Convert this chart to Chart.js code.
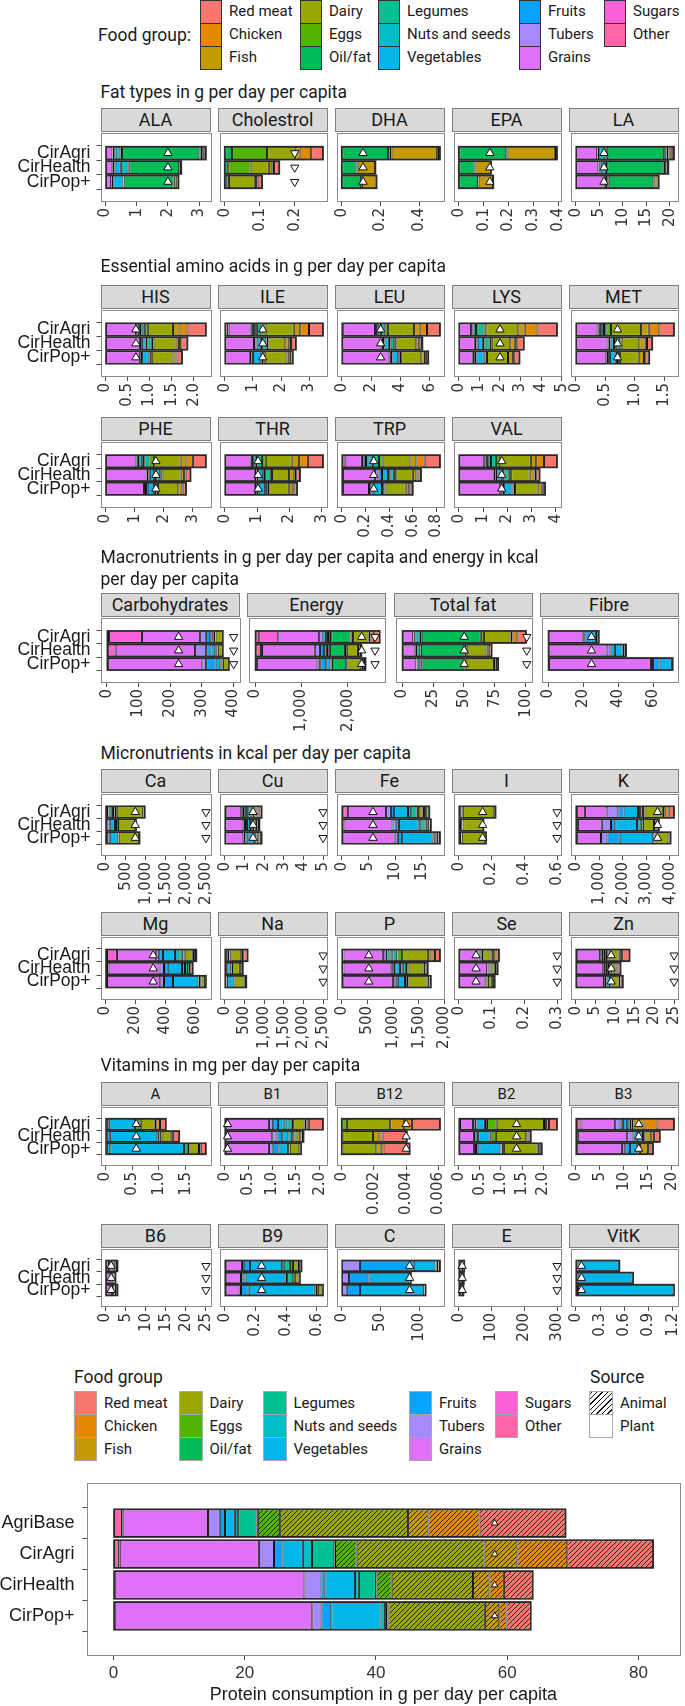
<!DOCTYPE html>
<html>
<head>
<meta charset="utf-8">
<script src="https://cdn.jsdelivr.net/npm/chart.js@4.4.1/dist/chart.umd.min.js"></script>
<style>
  body { margin: 0; background: #fff; }
  #fig { position: relative; width: 685px; height: 1706px; overflow: hidden; font-family: Roboto, sans-serif; color: #1a1a1a; }
  .title { position: absolute; font-size: 17.5px; line-height: 22px; white-space: nowrap; }
  .strip { position: absolute; background: #d9d9d9; border: 1px solid #7f7f7f; box-sizing: border-box; font-size: 18px; text-align: center; }
  .key { position: absolute; box-sizing: border-box; }
  .lab { position: absolute; font-size: 15px; line-height: 18px; white-space: nowrap; }
  canvas { position: absolute; }
  #err { position: absolute; left: 0; top: 0; font: 11px monospace; color: red; white-space: pre; }
</style>
</head>
<body>
<div id="fig"></div>
<script>
'use strict';

const scenarios = ['CirAgri', 'CirHealth', 'CirPop+'];
const proteinScenarios = ['AgriBase', 'CirAgri', 'CirHealth', 'CirPop+'];
const legendOrder = ['Red meat', 'Chicken', 'Fish', 'Dairy', 'Eggs', 'Oil/fat', 'Legumes', 'Nuts and seeds',
  'Vegetables', 'Fruits', 'Tubers', 'Grains', 'Sugars', 'Other'];
const groupColors = ['#F8766D', '#E38900', '#C49A00', '#99A800', '#53B400', '#00BC56', '#00C094', '#00BFC4',
  '#00B6EB', '#06A4FF', '#A58AFF', '#DF70F8', '#FB61D7', '#FF66A8'];
const animalGroups = ['Red meat', 'Chicken', 'Fish', 'Dairy', 'Eggs'];
// bars are stacked from the left in this order
const stackOrder = legendOrder.slice().reverse();

// each row: Other, Sugars, Grains, Tubers, Fruits, Vegetables, Nuts and seeds, Legumes, Oil/fat, Eggs, Dairy, Fish, Chicken, Red meat
// rows: CirAgri, CirHealth, CirPop+
const d_ALA = [
  [0.01, 0, 0.21, 0.01, 0.05, 0.10, 0.10, 0.05, 2.48, 0.03, 0.06, 0.05, 0.03, 0.04],
  [0.01, 0, 0.21, 0.02, 0.05, 0.20, 0.25, 0.02, 1.60, 0.02, 0.04, 0, 0, 0.01],
  [0.01, 0, 0.17, 0.02, 0.05, 0.30, 0.02, 0.01, 1.60, 0.02, 0.10, 0.02, 0.01, 0.01]];
const d_Cholestrol = [
  [0, 0, 0, 0, 0, 0, 0, 0, 0.021, 0.100, 0.079, 0.014, 0.033, 0.034],
  [0, 0, 0, 0, 0, 0, 0, 0, 0.010, 0.064, 0.052, 0.010, 0.005, 0.015],
  [0, 0, 0, 0, 0, 0, 0, 0, 0.008, 0.004, 0.074, 0.006, 0.002, 0.013]];
const d_DHA = [
  [0, 0, 0, 0, 0, 0, 0, 0, 0.239, 0.015, 0.003, 0.235, 0.010, 0.005],
  [0, 0, 0, 0, 0, 0, 0, 0, 0.076, 0.006, 0, 0.090, 0.002, 0],
  [0, 0, 0, 0, 0, 0, 0, 0, 0.100, 0.004, 0, 0.075, 0.001, 0]];
const d_EPA = [
  [0, 0, 0, 0, 0, 0, 0, 0, 0.191, 0.005, 0, 0.190, 0.005, 0.004],
  [0, 0, 0, 0, 0, 0, 0, 0, 0.064, 0.003, 0, 0.062, 0.001, 0],
  [0, 0, 0, 0, 0, 0, 0, 0, 0.078, 0.002, 0, 0.058, 0.001, 0]];
const d_LA = [
  [0.1, 0, 4.4, 0.1, 0.1, 0.3, 1.3, 0.3, 12.2, 0.5, 0.4, 0.2, 0.5, 0.5],
  [0.1, 0, 4.7, 0.1, 0.1, 0.3, 1.1, 0.3, 12.0, 0.3, 0.3, 0.1, 0.2, 0.1],
  [0.1, 0, 5.6, 0.1, 0.1, 0.5, 0.4, 0.2, 9.5, 0.2, 0.7, 0.1, 0.05, 0.1]];
const d_HIS = [
  [0.01, 0, 0.68, 0.02, 0.02, 0.05, 0.04, 0.08, 0, 0.06, 0.57, 0.15, 0.18, 0.42],
  [0.01, 0, 0.77, 0.03, 0.02, 0.08, 0.04, 0.10, 0, 0.04, 0.50, 0.08, 0.05, 0.14],
  [0.01, 0, 0.77, 0.02, 0.03, 0.15, 0.02, 0.03, 0, 0.02, 0.47, 0.07, 0.02, 0.13]];
const d_ILE = [
  [0.12, 0.02, 0.78, 0.04, 0.04, 0.08, 0.06, 0.16, 0, 0.15, 1.00, 0.23, 0.31, 0.50],
  [0.02, 0, 1.02, 0.05, 0.04, 0.15, 0.05, 0.15, 0, 0.07, 0.60, 0.14, 0.06, 0.18],
  [0.02, 0, 0.87, 0.06, 0.05, 0.28, 0.03, 0.06, 0, 0.05, 0.77, 0.10, 0.03, 0.10]];
const d_LEU = [
  [0.10, 0, 2.17, 0.07, 0.08, 0.15, 0.10, 0.30, 0, 0.19, 1.77, 0.38, 0.50, 0.89],
  [0.05, 0, 2.66, 0.10, 0.10, 0.30, 0.12, 0.25, 0, 0.15, 1.35, 0.20, 0.08, 0.14],
  [0.05, 0, 3.20, 0.10, 0.10, 0.40, 0.05, 0.05, 0, 0.10, 1.37, 0.25, 0.06, 0.17]];
const d_LYS = [
  [0.02, 0, 0.58, 0.06, 0.06, 0.12, 0.06, 0.30, 0, 0.14, 1.55, 0.31, 0.62, 0.95],
  [0.02, 0, 0.76, 0.08, 0.06, 0.25, 0.08, 0.25, 0, 0.10, 0.90, 0.22, 0.12, 0.32],
  [0.02, 0, 0.66, 0.10, 0.08, 0.35, 0.03, 0.06, 0, 0.07, 1.02, 0.25, 0.05, 0.26]];
const d_MET = [
  [0.01, 0, 0.36, 0.02, 0.02, 0.04, 0.03, 0.04, 0, 0.08, 0.51, 0.13, 0.18, 0.25],
  [0.01, 0, 0.53, 0.02, 0.03, 0.06, 0.03, 0.05, 0, 0.05, 0.30, 0.09, 0.04, 0.09],
  [0.01, 0, 0.51, 0.03, 0.03, 0.10, 0.02, 0.02, 0, 0.03, 0.32, 0.09, 0.02, 0.07]];
const d_PHE = [
  [0.02, 0, 1.04, 0.05, 0.05, 0.10, 0.07, 0.18, 0, 0.16, 0.91, 0.20, 0.22, 0.45],
  [0.02, 0, 1.39, 0.06, 0.05, 0.15, 0.07, 0.14, 0, 0.08, 0.62, 0.12, 0.05, 0.17],
  [0.02, 0, 1.30, 0.07, 0.06, 0.22, 0.03, 0.05, 0, 0.05, 0.70, 0.14, 0.03, 0.10]];
const d_THR = [
  [0.02, 0, 0.78, 0.04, 0.04, 0.08, 0.05, 0.14, 0, 0.12, 0.80, 0.23, 0.27, 0.47],
  [0.02, 0, 0.91, 0.05, 0.06, 0.15, 0.06, 0.14, 0, 0.07, 0.53, 0.16, 0.06, 0.12],
  [0.02, 0, 0.91, 0.06, 0.06, 0.20, 0.03, 0.05, 0, 0.05, 0.60, 0.14, 0.03, 0.09]];
const d_TRP = [
  [0.025, 0, 0.145, 0.015, 0.02, 0.03, 0.03, 0.05, 0, 0.03, 0.235, 0.05, 0.07, 0.13],
  [0.01, 0, 0.27, 0.03, 0.03, 0.05, 0.02, 0.03, 0, 0.02, 0.14, 0.03, 0.01, 0.03],
  [0.01, 0, 0.22, 0.02, 0.02, 0.07, 0.01, 0.01, 0, 0.01, 0.17, 0.03, 0.01, 0.02]];
const d_VAL = [
  [0.03, 0, 1.02, 0.06, 0.05, 0.10, 0.07, 0.20, 0, 0.18, 1.26, 0.22, 0.32, 0.54],
  [0.03, 0, 1.41, 0.08, 0.07, 0.20, 0.09, 0.18, 0, 0.10, 0.76, 0.20, 0.07, 0.14],
  [0.03, 0, 1.68, 0.09, 0.07, 0.30, 0.04, 0.05, 0, 0.06, 0.93, 0.17, 0.04, 0.10]];
const d_Carbohydrates = [
  [7, 104, 184, 18, 14, 8, 3, 5, 0, 1, 22, 0, 0, 1],
  [3, 25, 251, 35, 17, 12, 3, 4, 0, 1, 15, 0, 0, 1],
  [4, 0, 298, 12, 30, 15, 3, 4, 0, 1, 18, 0, 0, 1]];
const d_Energy = [
  [90, 410, 880, 90, 60, 40, 40, 30, 415, 55, 335, 40, 80, 120],
  [130, 20, 1137, 110, 90, 60, 40, 24, 324, 40, 240, 25, 15, 34],
  [40, 0, 1303, 60, 130, 90, 25, 9, 306, 24, 300, 40, 18, 35]];
const d_TotalFat = [
  [1, 0, 8, 0.3, 0.5, 1, 3.5, 1.6, 47.7, 2.5, 21.5, 1.5, 4, 7],
  [1, 0, 9.2, 0.4, 0.6, 1.2, 2.3, 0.5, 35.3, 1.7, 16, 1, 0.8, 2.4],
  [1, 0, 10.5, 0.3, 0.8, 2.2, 1.2, 0.6, 33.9, 0.9, 22.8, 1.2, 0.5, 1.8]];
const d_Fibre = [
  [0.3, 0, 19.4, 1.5, 3.5, 2.5, 0.8, 0.7, 0, 0, 0.2, 0, 0, 0],
  [0.3, 0, 33.0, 2.2, 2.5, 4.4, 1.0, 0.9, 0, 0, 0.1, 0, 0, 0],
  [0.5, 0, 58.0, 1.2, 3.7, 7.0, 0.3, 0.1, 0, 0, 0.1, 0, 0, 0]];
const d_Ca = [
  [10, 5, 50, 10, 20, 60, 30, 40, 5, 50, 650, 15, 10, 23],
  [10, 0, 60, 10, 25, 130, 25, 30, 0, 20, 430, 10, 3, 7],
  [10, 0, 55, 10, 30, 200, 10, 10, 0, 15, 490, 10, 3, 5]];
const d_Cu = [
  [0.03, 0.05, 0.76, 0.08, 0.10, 0.12, 0.12, 0.15, 0.01, 0.02, 0.18, 0.05, 0.05, 0.16],
  [0.03, 0, 0.92, 0.08, 0.10, 0.15, 0.12, 0.10, 0, 0.02, 0.12, 0.03, 0.02, 0.08],
  [0.03, 0, 0.92, 0.10, 0.15, 0.30, 0.05, 0.05, 0, 0.01, 0.12, 0.03, 0.01, 0.11]];
const d_Fe = [
  [0.3, 0.9, 7.1, 0.9, 0.6, 2.6, 0.6, 1.0, 0.1, 0.4, 0.6, 0.3, 0.4, 0.6],
  [0.3, 0.2, 9.0, 0.6, 0.6, 3.7, 0.5, 0.8, 0.1, 0.2, 0.3, 0.1, 0.05, 0.25],
  [0.3, 0, 9.6, 0.6, 0.8, 5.7, 0.2, 0.2, 0.1, 0.2, 0.3, 0.1, 0.05, 0.25]];
const d_I = [
  [0.005, 0, 0.008, 0, 0, 0.004, 0.002, 0.002, 0.001, 0.005, 0.190, 0.005, 0.001, 0.002],
  [0.005, 0, 0.010, 0, 0, 0.006, 0.002, 0.002, 0, 0.003, 0.118, 0.003, 0, 0.002],
  [0.003, 0, 0.004, 0, 0, 0.008, 0.001, 0.001, 0, 0.002, 0.143, 0.004, 0, 0.001]];
const d_K = [
  [60, 330, 925, 500, 220, 615, 90, 120, 5, 60, 780, 80, 170, 230],
  [60, 40, 1010, 390, 185, 925, 110, 110, 5, 30, 465, 60, 40, 110],
  [60, 0, 1015, 275, 520, 1430, 40, 20, 5, 25, 555, 50, 15, 30]];
const d_Mg = [
  [10, 66, 262, 20, 25, 80, 30, 25, 2, 8, 54, 8, 6, 10],
  [10, 10, 340, 30, 25, 95, 20, 20, 2, 5, 16, 4, 2, 3],
  [10, 0, 355, 25, 60, 170, 10, 5, 2, 3, 23, 4, 1, 2]];
const d_Na = [
  [20, 5, 30, 5, 5, 50, 5, 10, 10, 30, 250, 20, 30, 113],
  [20, 0, 35, 5, 5, 90, 5, 5, 5, 15, 200, 25, 10, 42],
  [15, 0, 30, 5, 5, 175, 2, 2, 5, 10, 230, 30, 5, 36]];
const d_P = [
  [30, 5, 765, 50, 40, 60, 55, 75, 5, 90, 500, 70, 70, 98],
  [30, 5, 917, 50, 40, 90, 55, 60, 3, 50, 290, 40, 15, 30],
  [30, 0, 965, 50, 45, 140, 20, 15, 3, 30, 352, 50, 10, 25]];
const d_Se = [
  [0.002, 0, 0.058, 0.001, 0.001, 0.002, 0.002, 0.003, 0, 0.006, 0.022, 0.008, 0.007, 0.011],
  [0.002, 0, 0.084, 0.001, 0.001, 0.003, 0.003, 0.003, 0, 0.003, 0.010, 0.006, 0.001, 0.002],
  [0.002, 0, 0.077, 0.001, 0.001, 0.004, 0.001, 0.001, 0, 0.002, 0.012, 0.007, 0.001, 0.001]];
const d_Zn = [
  [0.2, 0.05, 5.95, 0.2, 0.2, 0.4, 0.5, 0.5, 0.02, 0.3, 2.58, 0.3, 0.6, 1.9],
  [0.2, 0, 6.8, 0.2, 0.3, 0.5, 0.5, 0.3, 0.01, 0.2, 1.09, 0.3, 0.2, 0.8],
  [0.2, 0, 7.0, 0.2, 0.4, 0.9, 0.2, 0.1, 0.01, 0.1, 1.79, 0.4, 0.1, 0.6]];
const d_A = [
  [0.01, 0, 0.01, 0.01, 0.03, 0.49, 0, 0, 0.05, 0.06, 0.26, 0.03, 0.07, 0.11],
  [0.01, 0, 0.01, 0.01, 0.05, 0.89, 0, 0, 0.04, 0.04, 0.17, 0.02, 0.02, 0.12],
  [0.01, 0, 0.01, 0.01, 0.06, 1.38, 0, 0, 0.07, 0.03, 0.18, 0.03, 0.01, 0.09]];
const d_B1 = [
  [0.02, 0, 0.91, 0.09, 0.10, 0.12, 0.08, 0.09, 0, 0.03, 0.24, 0.04, 0.05, 0.30],
  [0.02, 0, 0.98, 0.11, 0.10, 0.13, 0.08, 0.05, 0, 0.02, 0.10, 0.02, 0.01, 0.04],
  [0.02, 0, 0.91, 0.08, 0.12, 0.20, 0.02, 0.01, 0, 0.01, 0.20, 0.02, 0.005, 0.015]];
const d_B12 = [
  [0, 0, 0, 0, 0, 0, 0, 0, 0, 0.00032, 0.00269, 0.00087, 0.00048, 0.00175],
  [0, 0, 0, 0, 0, 0, 0, 0, 0, 0.00010, 0.00184, 0.00040, 0.00020, 0.00151],
  [0, 0, 0, 0, 0, 0, 0, 0, 0, 0.00005, 0.00210, 0.00027, 0.00018, 0.00162]];
const d_B2 = [
  [0.03, 0, 0.31, 0.03, 0.05, 0.20, 0.03, 0.02, 0, 0.23, 1.12, 0.05, 0.07, 0.19],
  [0.02, 0, 0.34, 0.04, 0.06, 0.27, 0.03, 0.02, 0, 0.10, 0.72, 0.03, 0.02, 0.06],
  [0.02, 0, 0.34, 0.05, 0.08, 0.50, 0.02, 0.01, 0, 0.05, 0.80, 0.05, 0.01, 0.04]];
const d_B3 = [
  [0.3, 0.9, 7.0, 1.1, 0.5, 0.9, 0.5, 0.4, 0, 0.1, 0.3, 2.1, 2.9, 3.45],
  [0.3, 0.2, 10.2, 1.3, 0.7, 1.0, 0.3, 0.2, 0, 0.05, 0.25, 1.2, 0.6, 1.2],
  [0.3, 0, 9.3, 0.7, 1.0, 1.4, 0.2, 0.1, 0, 0.05, 0.3, 1.7, 0.3, 0.75]];
const d_B6 = [
  [0.05, 0.02, 0.8, 0.2, 0.15, 0.25, 0.08, 0.1, 0, 0.05, 0.3, 0.15, 0.35, 0.5],
  [0.05, 0, 1.0, 0.25, 0.2, 0.3, 0.1, 0.1, 0, 0.03, 0.2, 0.1, 0.06, 0.11],
  [0.05, 0, 1.0, 0.2, 0.35, 0.6, 0.05, 0.05, 0, 0.02, 0.3, 0.2, 0.05, 0.13]];
const d_B9 = [
  [0.006, 0, 0.106, 0.012, 0.04, 0.21, 0.01, 0.04, 0, 0.02, 0.03, 0.01, 0.01, 0.006],
  [0.006, 0, 0.10, 0.01, 0.02, 0.26, 0.01, 0.04, 0, 0.01, 0.025, 0.005, 0.002, 0.002],
  [0.006, 0, 0.09, 0.01, 0.05, 0.43, 0.005, 0.01, 0, 0.005, 0.025, 0.005, 0.002, 0.002]];
const d_C = [
  [0.5, 0, 0, 23, 69.5, 28, 0.5, 1, 0, 0, 2, 0.5, 0.5, 1.5],
  [0.5, 0, 0, 9, 25, 53, 0.3, 0.6, 0, 0, 0.5, 0.2, 0, 0.3],
  [0.5, 0, 0, 6, 17, 83, 0.3, 0.3, 0, 0, 0.8, 0.2, 0, 0.3]];
const d_E = [
  [0.5, 0, 2.0, 0.2, 0.6, 1.5, 3.0, 0.4, 6.0, 0.6, 0.8, 0.5, 0.4, 0.5],
  [0.5, 0, 2.3, 0.2, 0.8, 2.3, 3.4, 0.3, 5.0, 0.3, 0.5, 0.2, 0.1, 0.1],
  [0.5, 0, 2.5, 0.2, 1.0, 3.0, 1.2, 0.2, 4.8, 0.2, 0.7, 0.2, 0.05, 0.05]];
const d_VitK = [
  [0.005, 0, 0.005, 0.002, 0.010, 0.510, 0.002, 0.002, 0.002, 0.001, 0.001, 0, 0, 0],
  [0.005, 0, 0.006, 0.003, 0.010, 0.680, 0.002, 0.002, 0.001, 0, 0.001, 0, 0, 0],
  [0.005, 0, 0.006, 0.003, 0.015, 1.180, 0.002, 0.001, 0.001, 0, 0.002, 0, 0, 0]];
// rows: AgriBase, CirAgri, CirHealth, CirPop+
const d_Protein = [
  [1.3, 0.1, 13.0, 1.8, 0.8, 1.5, 0.5, 2.8, 0.2, 3.4, 19.5, 3.1, 7.8, 13.1],
  [0.86, 0.1, 21.2, 2.3, 1.3, 3.1, 1.4, 3.4, 0.1, 3.3, 19.5, 5.0, 7.6, 13.1],
  [0.2, 0, 28.9, 2.6, 0.6, 4.5, 0.6, 2.6, 0.1, 2.3, 12.4, 2.5, 2.2, 4.4],
  [0.2, 0, 30.1, 1.4, 1.5, 7.5, 0.7, 0.3, 0.1, 0.1, 14.7, 2.2, 1.1, 3.7]];

// reference marks: lo = upward triangle, hi = downward triangle
const lo_ALA = [2, 2, 2];
const hi_Cholestrol = [0.2, 0.2, 0.2];
const lo_DHA = [0.11, 0.11, 0.11];
const lo_EPA = [0.125, 0.125, 0.125];
const lo_LA = [6, 6, 6];
const lo_HIS = [0.69, 0.69, 0.69];
const lo_ILE = [1.35, 1.35, 1.35];
const lo_LEU = [2.65, 2.65, 2.65];
const lo_LYS = [2.0, 2.0, 2.0];
const lo_MET = [0.71, 0.71, 0.71];
const lo_PHE = [1.73, 1.73, 1.73];
const lo_THR = [1.03, 1.03, 1.03];
const lo_TRP = [0.27, 0.27, 0.27];
const lo_VAL = [1.77, 1.77, 1.77];
const lo_Carbohydrates = [227, 227, 227], hi_Carbohydrates = [401, 401, 401];
const lo_Energy = [2296, 2296, 2296], hi_Energy = [2583, 2583, 2583];
const lo_TotalFat = [50.2, 50.2, 50.2], hi_TotalFat = [100.7, 100.7, 100.7];
const lo_Fibre = [24.7, 24.7, 24.7];
const lo_Ca = [740, 740, 740], hi_Ca = [2500, 2500, 2500];
const lo_Cu = [1.44, 1.44, 1.44], hi_Cu = [5, 5, 5];
const lo_Fe = [5.85, 5.85, 5.85];
const lo_I = [0.146, 0.146, 0.146], hi_I = [0.6, 0.6, 0.6];
const lo_K = [3480, 3480, 3480];
const lo_Mg = [318, 318, 318];
const hi_Na = [2500, 2500, 2500];
const lo_P = [527, 527, 527];
const lo_Se = [0.053, 0.053, 0.053], hi_Se = [0.3, 0.3, 0.3];
const lo_Zn = [9.0, 9.0, 9.0], hi_Zn = [25, 25, 25];
const lo_A = [0.575, 0.575, 0.575];
const lo_B1 = [0.06, 0.06, 0.06];
const lo_B12 = [0.004, 0.004, 0.004];
const lo_B2 = [1.37, 1.37, 1.37];
const lo_B3 = [13.1, 13.1, 13.1];
const lo_B6 = [1.4, 1.4, 1.4], hi_B6 = [25, 25, 25];
const lo_B9 = [0.24, 0.24, 0.24];
const lo_C = [87.7, 87.7, 87.7];
const lo_E = [10.6, 10.6, 10.6], hi_E = [300, 300, 300];
const lo_VitK = [0.07, 0.07, 0.07];
const lo_Protein = [58.1, 58.1, 58.1, 58.1];

// tick labels
const t_ALA = ['0', '1', '2', '3'];
const t_Cholestrol = ['0', '0.1', '0.2'];
const t_DHA = ['0', '0.2', '0.4'];
const t_EPA = ['0', '0.1', '0.2', '0.3', '0.4'];
const t_LA = ['0', '5', '10', '15', '20'];
const t_HIS = ['0', '0.5', '1.0', '1.5', '2.0'];
const t_ILE = ['0', '1', '2', '3'];
const t_LEU = ['0', '2', '4', '6'];
const t_LYS = ['0', '1', '2', '3', '4', '5'];
const t_MET = ['0', '0.5', '1.0', '1.5'];
const t_PHE = ['0', '1', '2', '3'];
const t_THR = ['0', '1', '2', '3'];
const t_TRP = ['0', '0.2', '0.4', '0.6', '0.8'];
const t_VAL = ['0', '1', '2', '3', '4'];
const t_Carbohydrates = ['0', '100', '200', '300', '400'];
const t_Energy = ['0', '1,000', '2,000'];
const t_TotalFat = ['0', '25', '50', '75', '100'];
const t_Fibre = ['0', '20', '40', '60'];
const t_Ca = ['0', '500', '1,000', '1,500', '2,000', '2,500'];
const t_Cu = ['0', '1', '2', '3', '4', '5'];
const t_Fe = ['0', '5', '10', '15'];
const t_I = ['0', '0.2', '0.4', '0.6'];
const t_K = ['0', '1,000', '2,000', '3,000', '4,000'];
const t_Mg = ['0', '200', '400', '600'];
const t_Na = ['0', '500', '1,000', '1,500', '2,000', '2,500'];
const t_P = ['0', '500', '1,000', '1,500', '2,000'];
const t_Se = ['0', '0.1', '0.2', '0.3'];
const t_Zn = ['0', '5', '10', '15', '20', '25'];
const t_A = ['0', '0.5', '1.0', '1.5'];
const t_B1 = ['0', '0.5', '1.0', '1.5', '2.0'];
const t_B12 = ['0', '0.002', '0.004', '0.006'];
const t_B2 = ['0', '0.5', '1.0', '1.5', '2.0'];
const t_B3 = ['0', '5', '10', '15', '20'];
const t_B6 = ['0', '5', '10', '15', '20', '25'];
const t_B9 = ['0', '0.2', '0.4', '0.6'];
const t_C = ['0', '50', '100'];
const t_E = ['0', '100', '200', '300'];
const t_VitK = ['0', '0.3', '0.6', '0.9', '1.2'];
const t_Protein = ['0', '20', '40', '60', '80'];

// ---------- layout ----------
const lefts5 = [100.5, 217.5, 334.5, 451.5, 568.5], w5 = 110;
const lefts4 = [100.5, 247, 393.5, 539.5], w4 = 139;

const rows = [
  {title: 'Fat types in g per day per capita', titleTop: 81, boxTop: 133, boxH: 69, lefts: lefts5, w: w5,
    panels: [['ALA', d_ALA, lo_ALA, null, t_ALA], ['Cholestrol', d_Cholestrol, null, hi_Cholestrol, t_Cholestrol],
      ['DHA', d_DHA, lo_DHA, null, t_DHA], ['EPA', d_EPA, lo_EPA, null, t_EPA], ['LA', d_LA, lo_LA, null, t_LA]]},
  {title: 'Essential amino acids in g per day per capita', titleTop: 255, boxTop: 310, boxH: 67, lefts: lefts5, w: w5,
    panels: [['HIS', d_HIS, lo_HIS, null, t_HIS], ['ILE', d_ILE, lo_ILE, null, t_ILE], ['LEU', d_LEU, lo_LEU, null, t_LEU],
      ['LYS', d_LYS, lo_LYS, null, t_LYS], ['MET', d_MET, lo_MET, null, t_MET]]},
  {boxTop: 442, boxH: 66, lefts: lefts5, w: w5,
    panels: [['PHE', d_PHE, lo_PHE, null, t_PHE], ['THR', d_THR, lo_THR, null, t_THR], ['TRP', d_TRP, lo_TRP, null, t_TRP],
      ['VAL', d_VAL, lo_VAL, null, t_VAL]]},
  {title: 'Macronutrients in g per day per capita and energy in kcal<br>per day per capita', titleTop: 546, boxTop: 618, boxH: 65, lefts: lefts4, w: w4,
    panels: [['Carbohydrates', d_Carbohydrates, lo_Carbohydrates, hi_Carbohydrates, t_Carbohydrates],
      ['Energy', d_Energy, lo_Energy, hi_Energy, t_Energy], ['Total fat', d_TotalFat, lo_TotalFat, hi_TotalFat, t_TotalFat],
      ['Fibre', d_Fibre, lo_Fibre, null, t_Fibre]]},
  {title: 'Micronutrients in kcal per day per capita', titleTop: 742, boxTop: 794, boxH: 62, lefts: lefts5, w: w5,
    panels: [['Ca', d_Ca, lo_Ca, hi_Ca, t_Ca], ['Cu', d_Cu, lo_Cu, hi_Cu, t_Cu], ['Fe', d_Fe, lo_Fe, null, t_Fe],
      ['I', d_I, lo_I, hi_I, t_I], ['K', d_K, lo_K, null, t_K]]},
  {boxTop: 937, boxH: 63, lefts: lefts5, w: w5,
    panels: [['Mg', d_Mg, lo_Mg, null, t_Mg], ['Na', d_Na, null, hi_Na, t_Na], ['P', d_P, lo_P, null, t_P],
      ['Se', d_Se, lo_Se, hi_Se, t_Se], ['Zn', d_Zn, lo_Zn, hi_Zn, t_Zn]]},
  {title: 'Vitamins in mg per day per capita', titleTop: 1054, boxTop: 1107, boxH: 59, lefts: lefts5, w: w5, stripFont: 15,
    panels: [['A', d_A, lo_A, null, t_A], ['B1', d_B1, lo_B1, null, t_B1], ['B12', d_B12, lo_B12, null, t_B12],
      ['B2', d_B2, lo_B2, null, t_B2], ['B3', d_B3, lo_B3, null, t_B3]]},
  {boxTop: 1249, boxH: 58, lefts: lefts5, w: w5,
    panels: [['B6', d_B6, lo_B6, hi_B6, t_B6], ['B9', d_B9, lo_B9, null, t_B9], ['C', d_C, lo_C, null, t_C],
      ['E', d_E, lo_E, hi_E, t_E], ['VitK', d_VitK, lo_VitK, null, t_VitK]]}
];

const fig = document.getElementById('fig');
function el(cls, css, html) {
  const d = document.createElement('div');
  if (cls) d.className = cls;
  Object.assign(d.style, css);
  if (html !== undefined) d.innerHTML = html;
  fig.appendChild(d);
  return d;
}
const px = v => v + 'px';
const colorOf = g => groupColors[legendOrder.indexOf(g)];
const errors = [];

function hatch(color) {
  const s = 5;
  const c = document.createElement('canvas');
  c.width = s; c.height = s;
  const g = c.getContext('2d');
  g.fillStyle = color; g.fillRect(0, 0, s, s);
  g.strokeStyle = '#111'; g.lineWidth = 0.85;
  g.beginPath();
  g.moveTo(0, s); g.lineTo(s, 0);
  g.moveTo(-1, 1); g.lineTo(1, -1);
  g.moveTo(s - 1, s + 1); g.lineTo(s + 1, s - 1);
  g.stroke();
  return g.createPattern(c, 'repeat');
}

// panel frame + outline round each full bar
const framePlugin = {
  id: 'frame',
  afterDatasetDraw(chart, args) {
    if (args.index !== 0) return;
    const first = chart.getDatasetMeta(0).data;
    const last = chart.getDatasetMeta(stackOrder.length - 1).data;
    const ctx = chart.ctx;
    ctx.save();
    ctx.strokeStyle = '#2b2b2b';
    ctx.lineWidth = 1.6;
    first.forEach((b, i) => {
      const x0 = b.base, x1 = last[i].x;
      ctx.strokeRect(x0, b.y - b.height / 2, x1 - x0, b.height);
    });
    ctx.restore();
  },
  afterDraw(chart) {
    const a = chart.chartArea, ctx = chart.ctx;
    ctx.save();
    ctx.strokeStyle = '#8a8a8a';
    ctx.lineWidth = 1;
    ctx.strokeRect(Math.round(a.left) + 0.5, Math.round(a.top) + 0.5,
      Math.round(a.right - a.left) - 1, Math.round(a.bottom - a.top) - 1);
    ctx.restore();
  }
};

function barSets(vals, fill) {
  return stackOrder.map((g, gi) => ({
    label: g,
    data: vals.map((row, i) => ({x: row[gi], y: i + 1})),
    backgroundColor: fill(g),
    borderColor: '#111',
    borderWidth: 1,
    borderSkipped: false,
    categoryPercentage: 0.9,
    barPercentage: 1,
    stack: 'food'
  }));
}
function markSet(vals, up, r) {
  return {
    type: 'scatter',
    data: vals.map((v, i) => ({x: v, y: i + 1})),
    pointStyle: 'triangle', pointRotation: up ? 0 : 180,
    pointRadius: r, pointHoverRadius: r,
    pointBackgroundColor: '#fff', pointBorderColor: '#111', pointBorderWidth: 1,
    order: -1, stack: up ? 'lo' : 'hi', clip: false
  };
}

const TOP_PAD = 20, LEFT_PAD = 4, RIGHT_PAD = 22, TICK_H = 58;
const tickFont = {family: 'DejaVu Sans', size: 15};

function drawPanel(name, vals, lo, hi, ticks, left, top, w, h, first, stripFont) {
  el('strip', {left: px(left), top: px(top - 25), width: px(w), height: px(24), lineHeight: px(22), fontSize: px(stripFont || 18)}, name);

  const cv = document.createElement('canvas');
  const cl = first ? 0 : left - LEFT_PAD;
  cv.width = Math.round(left + w + RIGHT_PAD - cl);
  cv.height = TOP_PAD + h + TICK_H;
  cv.style.left = px(cl);
  cv.style.top = px(top - TOP_PAD);
  fig.appendChild(cv);

  const totals = vals.map(r => r.reduce((a, b) => a + b, 0));
  const M = Math.max(...totals, ...(lo || []), ...(hi || []));
  const xmin = -0.05 * M, xmax = 1.05 * M;
  const tickVals = ticks.map(t => parseFloat(t.replace(/,/g, '')));
  const yWidth = first ? left : 0;

  const datasets = barSets(vals, colorOf);
  if (lo) datasets.push(markSet(lo, true, 4.8));
  if (hi) datasets.push(markSet(hi, false, 4.8));

  new Chart(cv, {
    type: 'bar',
    data: {datasets},
    options: {
      responsive: false, animation: false, indexAxis: 'y',
      layout: {padding: {top: TOP_PAD, left: first ? 0 : LEFT_PAD, right: RIGHT_PAD, bottom: 0}},
      plugins: {legend: {display: false}, tooltip: {enabled: false}},
      scales: {
        x: {
          type: 'linear', stacked: true, min: xmin, max: xmax,
          afterBuildTicks: ax => { ax.ticks = tickVals.filter(v => v >= xmin && v <= xmax).map(v => ({value: v})); },
          afterFit: ax => { ax.height = TICK_H; },
          border: {display: false},
          grid: {drawOnChartArea: false, tickLength: 4, color: '#4d4d4d'},
          ticks: {autoSkip: false, minRotation: 90, maxRotation: 90, padding: 2, color: '#333', font: tickFont,
            callback: v => ticks[tickVals.indexOf(v)]}
        },
        y: {
          type: 'linear', stacked: true, min: 0.4, max: 3.6, reverse: true,
          afterBuildTicks: ax => { ax.ticks = scenarios.map((s, i) => ({value: i + 1})); },
          afterFit: ax => { ax.width = yWidth; },
          border: {display: false},
          grid: {display: first, drawOnChartArea: false, tickLength: 4, color: '#4d4d4d'},
          ticks: {display: first, autoSkip: false, padding: 6, color: '#1a1a1a', font: {size: 17.5},
            callback: v => scenarios[v - 1]}
        }
      }
    },
    plugins: [framePlugin]
  });
}

rows.forEach(r => {
  if (r.title) el('title', {left: px(100.5), top: px(r.titleTop)}, r.title);
  r.panels.forEach((p, k) => {
    try {
      drawPanel(p[0], p[1], p[2], p[3], p[4], r.lefts[k], r.boxTop, r.w, r.boxH, k === 0, r.stripFont);
    } catch (e) {
      errors.push(p[0] + ': ' + e.message);
    }
  });
});

// ---------- top legend ----------
el('title', {left: px(98), top: px(24)}, 'Food group:');
const topKeyX = [200, 300, 378, 519, 604];
legendOrder.forEach((g, k) => {
  const c = Math.floor(k / 3), r = k % 3;
  el('key', {left: px(topKeyX[c]), top: px(r * 23), width: px(22), height: px(24), background: colorOf(g), border: '1.5px solid #333'});
  el('lab', {left: px(topKeyX[c] + 29), top: px(r * 23 + 2)}, g);
});

// ---------- bottom legend ----------
el('title', {left: px(74), top: px(1366)}, 'Food group');
el('title', {left: px(590), top: px(1366)}, 'Source');
const botKeyX = [73.5, 179, 263, 408.5, 494.5];
legendOrder.forEach((g, k) => {
  const c = Math.floor(k / 3), r = k % 3;
  el('key', {left: px(botKeyX[c]), top: px(1391 + r * 23), width: px(23.5), height: px(23.5), background: colorOf(g), border: '1px solid #a8a8a8'});
  el('lab', {left: px(botKeyX[c] + 30.5), top: px(1393.5 + r * 23)}, g);
});
el('key', {left: px(589), top: px(1391), width: px(23.5), height: px(23.5), border: '1px solid #a8a8a8',
  background: 'repeating-linear-gradient(-45deg, #fff 0px, #fff 2.8px, #111 2.8px, #111 3.8px)'});
el('lab', {left: px(620), top: px(1393.5)}, 'Animal');
el('key', {left: px(589), top: px(1414), width: px(23.5), height: px(23.5), border: '1px solid #a8a8a8', background: '#fff'});
el('lab', {left: px(620), top: px(1416.5)}, 'Plant');

// ---------- protein chart ----------
try {
  const boxL = 86.5, boxR = 683.7, boxT = 1483, boxH = 173;
  const cv = document.createElement('canvas');
  cv.width = 685; cv.height = 1706 - (boxT - TOP_PAD);
  cv.style.left = '0px'; cv.style.top = px(boxT - TOP_PAD);
  fig.appendChild(cv);
  const totals = d_Protein.map(r => r.reduce((a, b) => a + b, 0));
  const M = Math.max(...totals, ...lo_Protein);
  const tickVals = t_Protein.map(Number);
  const datasets = barSets(d_Protein, g => animalGroups.includes(g) ? hatch(colorOf(g)) : colorOf(g));
  datasets.push(markSet(lo_Protein, true, 3.8));
  new Chart(cv, {
    type: 'bar',
    data: {datasets},
    options: {
      responsive: false, animation: false, indexAxis: 'y',
      layout: {padding: {top: TOP_PAD, left: 0, right: 685 - boxR, bottom: 0}},
      plugins: {legend: {display: false}, tooltip: {enabled: false}},
      scales: {
        x: {
          type: 'linear', stacked: true, min: -0.05 * M, max: 1.05 * M,
          afterBuildTicks: ax => { ax.ticks = tickVals.map(v => ({value: v})); },
          afterFit: ax => { ax.height = cv.height - TOP_PAD - boxH; },
          border: {display: false},
          grid: {drawOnChartArea: false, tickLength: 4, color: '#4d4d4d'},
          ticks: {autoSkip: false, maxRotation: 0, minRotation: 0, padding: 3, color: '#333', font: {size: 17},
            callback: v => t_Protein[tickVals.indexOf(v)]},
          title: {display: true, text: 'Protein consumption in g per day per capita', color: '#1a1a1a',
            font: {size: 18}, padding: {top: 0, bottom: 0}}
        },
        y: {
          type: 'linear', stacked: true, min: 0.4, max: 4.6, reverse: true,
          afterBuildTicks: ax => { ax.ticks = proteinScenarios.map((s, i) => ({value: i + 1})); },
          afterFit: ax => { ax.width = boxL; },
          border: {display: false},
          grid: {drawOnChartArea: false, tickLength: 4, color: '#4d4d4d'},
          ticks: {autoSkip: false, padding: 8, color: '#1a1a1a', font: {size: 18}, callback: v => proteinScenarios[v - 1]}
        }
      }
    },
    plugins: [framePlugin]
  });
} catch (e) {
  errors.push('protein: ' + e.message);
}

if (errors.length) {
  const d = document.createElement('div');
  d.id = 'err';
  d.textContent = errors.join('\n');
  fig.appendChild(d);
}
</script>
</body>
</html>
